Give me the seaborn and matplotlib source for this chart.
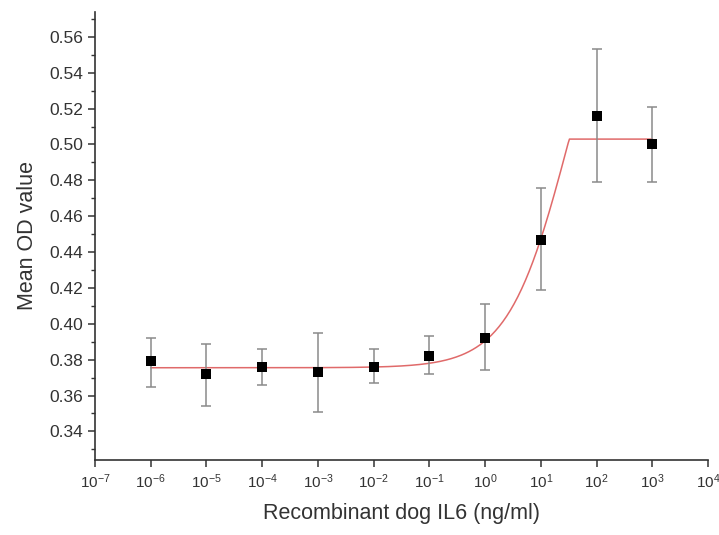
import numpy as np
import pandas as pd
import matplotlib
matplotlib.use("Agg")
import matplotlib.pyplot as plt
import matplotlib.ticker as mticker
import seaborn as sns

# data
conc = [1e-6, 1e-5, 1e-4, 1e-3, 1e-2, 1e-1, 1e0, 1e1, 1e2, 1e3]
mean_od = [0.379, 0.372, 0.376, 0.373, 0.376, 0.382, 0.392, 0.447, 0.516, 0.500]
err_low = [0.365, 0.354, 0.366, 0.351, 0.367, 0.372, 0.374, 0.419, 0.479, 0.479]
err_high = [0.392, 0.389, 0.386, 0.395, 0.386, 0.393, 0.411, 0.476, 0.553, 0.521]

# dose-response fit parameters (Hill form, capped at plateau)
fit_bottom = 0.3755
fit_span = 0.2535
fit_ec50 = 31.7
fit_hill = 0.8
fit_plateau = 0.503

df = pd.DataFrame({'conc': conc, 'od': mean_od})
yerr = [np.array(mean_od) - np.array(err_low), np.array(err_high) - np.array(mean_od)]

xfit = np.logspace(-6, 3, 400)
yfit = fit_bottom + fit_span / (1 + (fit_ec50 / xfit) ** fit_hill)
yfit = np.minimum(yfit, fit_plateau)
fit_df = pd.DataFrame({'conc': xfit, 'od': yfit})

sns.set_theme(style='ticks')
plt.rcParams['font.family'] = ['Liberation Sans', 'DejaVu Sans']
plt.rcParams['mathtext.default'] = 'regular'
plt.rcParams['axes.unicode_minus'] = False

fig = plt.figure(figsize=(7.19, 5.35), dpi=100)
ax = fig.add_axes([0.132, 0.140, 0.853, 0.838])

sns.lineplot(data=fit_df, x='conc', y='od', ax=ax, color='#e06a6a', linewidth=1.1, zorder=2)
ax.errorbar(conc, mean_od, yerr=yerr, fmt='none', ecolor='#8a8a8a', elinewidth=1.1,
            capsize=3.8, capthick=1.1, zorder=3)
sns.scatterplot(data=df, x='conc', y='od', ax=ax, marker='s', s=62, color='black',
                edgecolor='black', linewidth=0, zorder=4)

ax.set_xscale('log')
ax.set_xlim(1e-7, 1e4)
ax.set_ylim(0.324, 0.574)
ax.xaxis.set_major_locator(mticker.FixedLocator([10.0 ** k for k in range(-7, 5)]))
ax.xaxis.set_minor_locator(mticker.NullLocator())
ax.xaxis.set_major_formatter(mticker.FuncFormatter(lambda v, p: r'$10^{%d}$' % round(np.log10(v))))
ax.yaxis.set_major_locator(mticker.FixedLocator(np.round(np.arange(0.34, 0.561, 0.02), 2)))
ax.yaxis.set_minor_locator(mticker.FixedLocator(np.round(np.arange(0.33, 0.575, 0.01), 2)))
ax.yaxis.set_major_formatter(mticker.FormatStrFormatter('%.2f'))

ax.tick_params(axis='both', which='major', direction='out', length=5, width=1.1,
               color='#333333', labelcolor='#333333')
ax.tick_params(axis='y', which='minor', direction='out', length=3, width=1.0, color='#333333')
ax.tick_params(axis='x', labelsize=11)
ax.tick_params(axis='y', labelsize=12.5)

for s in ['left', 'bottom']:
    ax.spines[s].set_color('#333333')
    ax.spines[s].set_linewidth(1.2)
sns.despine(ax=ax, top=True, right=True)

ax.set_xlabel('Recombinant dog IL6 (ng/ml)', fontsize=15.5, color='#333333', labelpad=9)
ax.set_ylabel('Mean OD value', fontsize=15.5, color='#333333', labelpad=8)

fig.savefig('out.png', dpi=100)
